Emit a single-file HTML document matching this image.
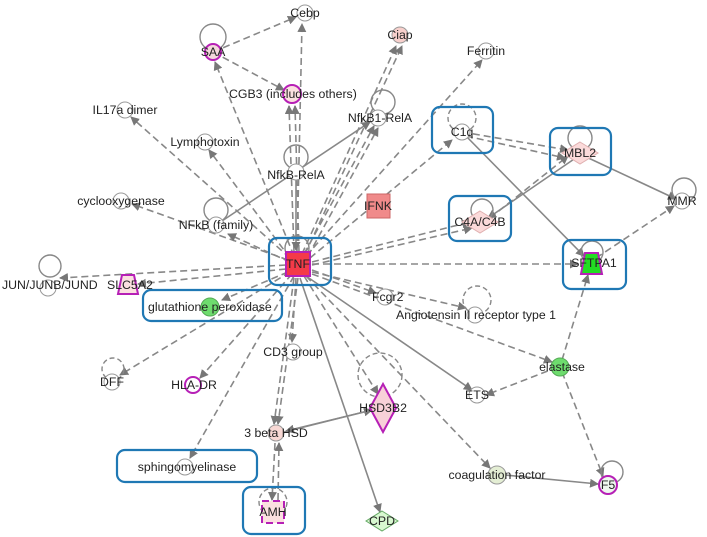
<!DOCTYPE html>
<html><head><meta charset="utf-8"><style>
html,body{margin:0;padding:0;background:#fff;}
svg{display:block;font-family:"Liberation Sans",sans-serif;}
text{font-size:12.3px;fill:#222;}
</style></head><body>
<svg width="707" height="537" viewBox="0 0 707 537" xmlns="http://www.w3.org/2000/svg">
<defs>
<marker id="a" markerWidth="9" markerHeight="9" refX="8" refY="4.5" orient="auto" markerUnits="userSpaceOnUse"><path d="M0,0 L9,4.5 L0,9z" fill="#777"/></marker>
</defs>
<g stroke="#888" stroke-width="1.6" fill="none" stroke-dasharray="7,4" marker-end="url(#a)">
<line x1="294" y1="256" x2="215" y2="62"/>
<line x1="297" y1="252" x2="302" y2="24"/>
<line x1="294" y1="252" x2="289" y2="106"/>
<line x1="299" y1="252" x2="295" y2="106"/>
<line x1="302" y1="254" x2="396" y2="46"/>
<line x1="305" y1="254" x2="402" y2="46"/>
<line x1="306" y1="256" x2="482" y2="60"/>
<line x1="290" y1="258" x2="131" y2="117"/>
<line x1="290" y1="258" x2="209" y2="150"/>
<line x1="288" y1="260" x2="132" y2="204"/>
<line x1="290" y1="262" x2="228" y2="234"/>
<line x1="304" y1="254" x2="374" y2="126"/>
<line x1="308" y1="256" x2="378" y2="128"/>
<line x1="310" y1="258" x2="452" y2="140"/>
<line x1="312" y1="262" x2="470" y2="222"/>
<line x1="312" y1="265" x2="472" y2="228"/>
<line x1="312" y1="264" x2="578" y2="264"/>
<line x1="286" y1="265" x2="60" y2="278"/>
<line x1="286" y1="269" x2="138" y2="284"/>
<line x1="288" y1="272" x2="222" y2="300"/>
<line x1="312" y1="270" x2="376" y2="293"/>
<line x1="312" y1="272" x2="466" y2="308"/>
<line x1="312" y1="274" x2="552" y2="362"/>
<line x1="290" y1="272" x2="120" y2="375"/>
<line x1="292" y1="274" x2="200" y2="378"/>
<line x1="294" y1="276" x2="190" y2="458"/>
<line x1="306" y1="276" x2="490" y2="468"/>
<line x1="296" y1="278" x2="292" y2="342"/>
<line x1="294" y1="278" x2="274" y2="424"/>
<line x1="298" y1="278" x2="278" y2="424"/>
<line x1="304" y1="276" x2="378" y2="394"/>
<line x1="213" y1="52" x2="296" y2="17"/>
<line x1="213" y1="52" x2="284" y2="90"/>
<line x1="462" y1="132" x2="568" y2="150"/>
<line x1="466" y1="136" x2="565" y2="158"/>
<line x1="490" y1="218" x2="568" y2="156"/>
<line x1="596" y1="258" x2="674" y2="206"/>
<line x1="558" y1="367" x2="486" y2="395"/>
<line x1="562" y1="372" x2="603" y2="476"/>
<line x1="562" y1="360" x2="588" y2="275"/>
<line x1="275" y1="443" x2="272" y2="500"/>
<line x1="278" y1="500" x2="279" y2="443"/>
</g>
<g stroke="#888" stroke-width="1.6" fill="none" marker-end="url(#a)">
<line x1="306" y1="276" x2="472" y2="390"/>
<line x1="300" y1="278" x2="380" y2="512"/>
<line x1="216" y1="225" x2="370" y2="122"/>
<line x1="296" y1="180" x2="296" y2="250"/>
<line x1="464" y1="134" x2="584" y2="256"/>
<line x1="580" y1="155" x2="488" y2="218"/>
<line x1="582" y1="155" x2="676" y2="199"/>
<line x1="284" y1="432" x2="372" y2="410"/>
<line x1="372" y1="410" x2="286" y2="431"/>
<line x1="505" y1="475" x2="598" y2="484"/>
</g>
<g stroke="#888" stroke-width="1.4" fill="none">
<circle cx="213" cy="37" r="13"/><circle cx="50" cy="266" r="11"/><circle cx="580" cy="138" r="12"/>
<circle cx="684" cy="190" r="12"/><circle cx="592" cy="252" r="11"/><circle cx="612" cy="472" r="11"/>
<circle cx="216" cy="210" r="12"/><circle cx="296" cy="157" r="12"/><circle cx="383" cy="102" r="12"/>
<circle cx="482" cy="210" r="11"/><circle cx="297" cy="248" r="12"/>
<circle cx="113" cy="369" r="11" stroke-dasharray="5,3"/><circle cx="477" cy="300" r="14" stroke-dasharray="5,3"/>
<circle cx="462" cy="118" r="14" stroke-dasharray="5,3"/><circle cx="380" cy="375" r="22" stroke-dasharray="5,3"/>
<circle cx="273" cy="502" r="14" stroke-dasharray="5,3"/>
</g>
<g stroke="#1f78b4" stroke-width="2.2" fill="none">
<rect x="269" y="238" width="62" height="47" rx="8"/>
<rect x="432" y="107" width="61" height="46" rx="8"/>
<rect x="550" y="128" width="61" height="47" rx="8"/>
<rect x="449" y="196" width="62" height="45" rx="8"/>
<rect x="563" y="240" width="63" height="49" rx="8"/>
<rect x="143" y="290" width="139" height="31" rx="8"/>
<rect x="117" y="450" width="140" height="32" rx="8"/>
<rect x="243" y="487" width="62" height="47" rx="8"/>
</g>
<g stroke="#999" stroke-width="1" fill="#fff">
<circle cx="305" cy="13" r="8"/><circle cx="486" cy="51" r="8"/><circle cx="125" cy="110" r="8"/>
<circle cx="205" cy="142" r="8"/><circle cx="378" cy="118" r="8"/><circle cx="296" cy="172" r="8"/>
<circle cx="121" cy="201" r="8"/><circle cx="216" cy="225" r="8"/><circle cx="462" cy="132" r="8"/>
<circle cx="682" cy="201" r="8"/><circle cx="48" cy="288" r="8"/><circle cx="385" cy="297" r="8"/>
<circle cx="475" cy="315" r="8"/><circle cx="293" cy="352" r="8"/><circle cx="112" cy="382" r="8"/>
<circle cx="477" cy="395" r="8"/><circle cx="185" cy="467" r="8"/>
<circle cx="400" cy="35" r="8" fill="#f8d0cc"/><circle cx="276" cy="433" r="8" fill="#f8d8d4"/>
<circle cx="497" cy="475" r="9" fill="#e4eed4"/>
</g>
<g stroke="#b620b6" stroke-width="2" fill="#fff">
<circle cx="213" cy="52" r="8" fill="#f4d8dc"/><circle cx="292" cy="94" r="9" fill="#fbe0e0"/>
<circle cx="193" cy="385" r="8"/><circle cx="608" cy="485" r="9" fill="#eef8ee"/>
<polygon points="122,275 134,275 138,294 118,294" fill="#fbe0e0"/>
<polygon points="585,253 598,253 602,274 581,274" fill="#22dd22"/>
<polygon points="383,384 396,408 383,432 370,408" fill="#f8d0d8"/>
<rect x="262" y="501" width="22" height="22" fill="#fbe0e0" stroke-dasharray="7,4"/>
</g>
<rect x="286" y="252" width="24" height="24" fill="#f43a48" stroke="#b620b6" stroke-width="2"/>
<rect x="367" y="194" width="23" height="24" fill="#f08a8a" stroke="#c66"/>
<circle cx="210" cy="307" r="9" fill="#6edc6e" stroke="#5a5"/>
<circle cx="560" cy="367" r="9" fill="#6edc6e" stroke="#5a5"/>
<polygon points="580,142 598,153 580,164 562,153" fill="#fbdada" stroke="#e0b0b0"/>
<polygon points="480,211 498,222 480,233 462,222" fill="#fbdada" stroke="#e0b0b0"/>
<polygon points="382,511 398,521 382,531 366,521" fill="#d8f8d0" stroke="#6a6"/>
<text x="298" y="268" text-anchor="middle">TNF</text>
<text x="213" y="56" text-anchor="middle">SAA</text>
<text x="305" y="17" text-anchor="middle">Cebp</text>
<text x="400" y="39" text-anchor="middle">Ciap</text>
<text x="486" y="55" text-anchor="middle">Ferritin</text>
<text x="229" y="98">CGB3 (includes others)</text>
<text x="125" y="114" text-anchor="middle">IL17a dimer</text>
<text x="205" y="146" text-anchor="middle">Lymphotoxin</text>
<text x="380" y="122" text-anchor="middle">NfkB1-RelA</text>
<text x="296" y="179" text-anchor="middle">NfkB-RelA</text>
<text x="121" y="205" text-anchor="middle">cyclooxygenase</text>
<text x="216" y="229" text-anchor="middle">NFkB (family)</text>
<text x="378" y="210" text-anchor="middle">IFNK</text>
<text x="462" y="136" text-anchor="middle">C1q</text>
<text x="580" y="157" text-anchor="middle">MBL2</text>
<text x="480" y="226" text-anchor="middle">C4A/C4B</text>
<text x="682" y="205" text-anchor="middle">MMR</text>
<text x="594" y="267" text-anchor="middle">SFTPA1</text>
<text x="2" y="289">JUN/JUNB/JUND</text>
<text x="107" y="289">SLC5A2</text>
<text x="148" y="311">glutathione peroxidase</text>
<text x="372" y="301">Fcgr2</text>
<text x="476" y="319" text-anchor="middle">Angiotensin II receptor type 1</text>
<text x="293" y="356" text-anchor="middle">CD3 group</text>
<text x="112" y="386" text-anchor="middle">DFF</text>
<text x="194" y="389" text-anchor="middle">HLA-DR</text>
<text x="562" y="371" text-anchor="middle">elastase</text>
<text x="477" y="399" text-anchor="middle">ETS</text>
<text x="383" y="412" text-anchor="middle">HSD3B2</text>
<text x="276" y="437" text-anchor="middle">3 beta HSD</text>
<text x="187" y="471" text-anchor="middle">sphingomyelinase</text>
<text x="497" y="479" text-anchor="middle">coagulation factor</text>
<text x="608" y="489" text-anchor="middle">F5</text>
<text x="273" y="516" text-anchor="middle">AMH</text>
<text x="382" y="525" text-anchor="middle">CPD</text>
</svg>
</body></html>
